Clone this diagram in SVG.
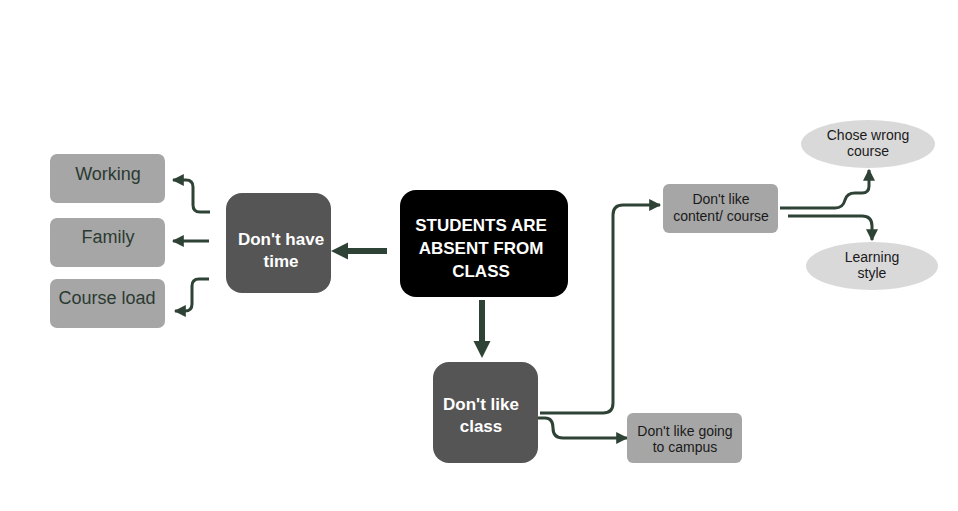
<svg xmlns="http://www.w3.org/2000/svg" width="958" height="511" viewBox="0 0 958 511">
<defs>
<style>
.gray{fill:#a6a6a6}
.dark{fill:#555555}
.ell{fill:#d9d9d9}
.t{font-family:"Liberation Sans",Arial,sans-serif;text-anchor:middle}
.tg{fill:#2b3a31;font-size:18px}
.tw{fill:#ffffff;font-size:17px;font-weight:bold}
.ts{fill:#1a1a1a;font-size:14px}
.c{fill:none;stroke:#2f4236;stroke-width:3;stroke-linecap:butt}
.cb{fill:none;stroke:#2f4236;stroke-width:6}
</style>
<marker id="ah" viewBox="0 0 10 10" refX="9" refY="5" markerWidth="12" markerHeight="13" markerUnits="userSpaceOnUse" orient="auto">
<path d="M0,0 L10,5 L0,10 Z" fill="#2f4236"/>
</marker>
<marker id="ahb" viewBox="0 0 10 10" refX="0" refY="5" markerWidth="17" markerHeight="22" markerUnits="userSpaceOnUse" orient="auto">
<path d="M0,0 L10,5 L0,10 Z" fill="#2f4236"/>
</marker>
</defs>
<rect width="958" height="511" fill="#ffffff"/>

<g id="connectors">
<path class="cb" d="M387,251 L348,251" marker-end="url(#ahb)"/>
<path class="cb" d="M482,300 L482,341" marker-end="url(#ahb)"/>
<path class="c" d="M210,212 L200,212 Q193,212 193,205 L193,187 Q193,180 186,180 L173,180" marker-end="url(#ah)"/>
<path class="c" d="M209,241 L173,241" marker-end="url(#ah)"/>
<path class="c" d="M209,279 L199,279 Q192,279 192,286 L192,304 Q192,311 185,311 L175,311" marker-end="url(#ah)"/>
<path class="c" d="M540,413 L603,413 Q613,413 613,403 L613,215 Q613,205 623,205 L660,205" marker-end="url(#ah)"/>
<path class="c" d="M536,418 L545,418 Q553,418 553,428 Q553,438 563,438 L627,438" marker-end="url(#ah)"/>
<path class="c" d="M780,208 L835,208 Q843,208 845,200 Q847,193 855,193 L862,193 Q869,193 869,186 L869,170" marker-end="url(#ah)"/>
<path class="c" d="M788,216 L862,216 Q872,216 872,226 L872,240" marker-end="url(#ah)"/>
</g>

<g id="n-working">
<rect class="gray" x="50" y="154" width="115" height="49" rx="7"/>
<text class="t tg" x="108" y="180">Working</text>
</g>
<g id="n-family">
<rect class="gray" x="50" y="218" width="115" height="49" rx="7"/>
<text class="t tg" x="108" y="243">Family</text>
</g>
<g id="n-courseload">
<rect class="gray" x="50" y="279" width="115" height="49" rx="7"/>
<text class="t tg" x="107" y="304">Course load</text>
</g>
<g id="n-time">
<rect class="dark" x="226" y="193" width="105" height="100" rx="16"/>
<text class="t tw" x="281" y="245">Don't have</text>
<text class="t tw" x="281" y="267">time</text>
</g>
<g id="n-center">
<rect x="400" y="190" width="168" height="107" rx="16" fill="#000000"/>
<text class="t tw" x="481" y="231">STUDENTS ARE</text>
<text class="t tw" x="481" y="254">ABSENT FROM</text>
<text class="t tw" x="481" y="277">CLASS</text>
</g>
<g id="n-class">
<rect class="dark" x="433" y="362" width="105" height="101" rx="16"/>
<text class="t tw" x="481" y="410">Don't like</text>
<text class="t tw" x="481" y="432">class</text>
</g>
<g id="n-content">
<rect class="gray" x="663" y="184" width="115" height="49" rx="6"/>
<text class="t ts" x="721" y="204">Don't like</text>
<text class="t ts" x="721" y="221">content/ course</text>
</g>
<g id="n-campus">
<rect class="gray" x="627" y="413" width="115" height="50" rx="6"/>
<text class="t ts" x="685" y="436">Don't like going</text>
<text class="t ts" x="685" y="452">to campus</text>
</g>
<g id="n-wrong">
<ellipse class="ell" cx="868" cy="144" rx="67" ry="24"/>
<text class="t ts" x="868" y="140">Chose wrong</text>
<text class="t ts" x="868" y="156">course</text>
</g>
<g id="n-style">
<ellipse class="ell" cx="872" cy="266" rx="66" ry="24"/>
<text class="t ts" x="872" y="262">Learning</text>
<text class="t ts" x="872" y="278">style</text>
</g>
</svg>
